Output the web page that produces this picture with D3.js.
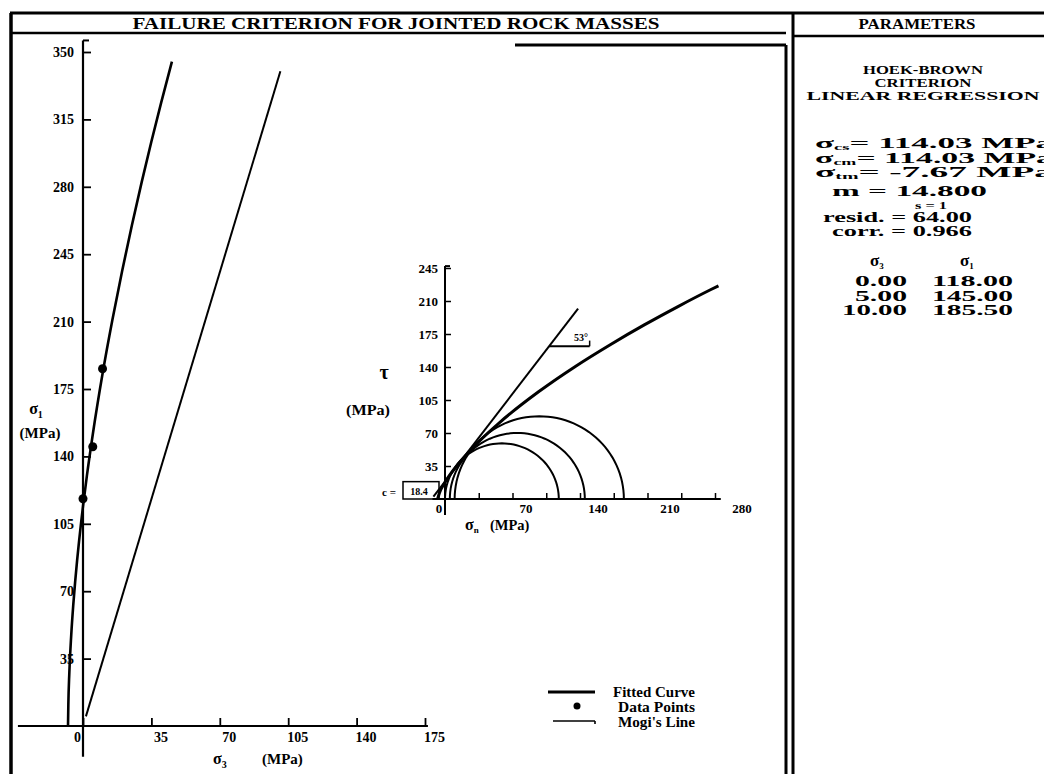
<!DOCTYPE html>
<html><head><meta charset="utf-8">
<script src="https://cdn.jsdelivr.net/npm/d3@7"></script>
<style>
body{margin:0;background:#fff;}
svg{display:block;font-family:"Liberation Serif","Times New Roman",serif;font-weight:bold;}
</style></head><body>
<svg id="c" width="1044" height="774"></svg>
<script>
// ---------- data ----------
const dataSigma3 = [0, 5, 10];
const dataSigma1 = [118, 145, 185.5];
// fitted Hoek-Brown curve, sigma1 vs sigma3 (MPa)
const fitSigma3 = [-7.67, -7.5, -7, -6, -5, -4, -3, -2, -1, 0, 2, 5, 10, 15, 20, 25, 30, 35, 40, 45.5];
const fitSigma1 = [0, 11.1, 27.5, 47.6, 62.6, 75.1, 86.1, 96.1, 105.4, 114.0, 130.0, 151.4, 182.9, 210.7, 236.2, 259.9, 282.3, 303.5, 323.7, 345];
// Mogi's line
const mogiSigma3 = [1.5, 101];
const mogiSigma1 = [5, 340];
// Mohr envelope (inset), tau vs sigma_n
const envSigmaN = [-7.67, -5.7, -0.33, 12.1, 23.9, 35.1, 56.6, 97.0, 135.2, 171.8, 207.1, 241.6, 275.3, 283.6];
const envTau    = [0, 6.6, 17.1, 35.2, 49.0, 60.9, 81.1, 113.7, 140.6, 163.9, 184.9, 204.1, 221.9, 226.1];
// linear envelope (53 deg, c = 18.4)
const linSigmaN = [-12, 138];
const linTau = [2.5, 202];
const angleMarkN = [108, 150];
const angleMarkTau = [162, 168];
const cohesion = 18.4;

const mainXTicks = [0, 35, 70, 105, 140, 175];
const mainYTicks = [35, 70, 105, 140, 175, 210, 245, 280, 315, 350];
const insetXTicks = [35, 70, 105, 140, 175, 210, 245, 280];
const insetXLabels = [0, 70, 140, 210, 280];
const insetYTicks = [35, 70, 105, 140, 175, 210, 245];

const legendLabels = ["Fitted Curve", "Data Points", "Mogi's Line"];
const paramHeader = ["HOEK-BROWN", "CRITERION", "LINEAR REGRESSION"];
const paramNames = ["cs", "cm", "tm"];
const paramValues = ["= 114.03 MPa", "= 114.03 MPa", "= -7.67 MPa"];
const paramOther = ["m = 14.800", "s = 1", "resid. = 64.00", "corr. = 0.966"];
const tableS3 = ["0.00", "5.00", "10.00"];
const tableS1 = ["118.00", "145.00", "185.50"];

// ---------- drawing ----------
const FONT = '"Liberation Serif","Times New Roman",serif';
const svg = d3.select("#c");
svg.append("rect").attr("width", 1044).attr("height", 774).attr("fill", "#fff");

// frame
const fr = svg.append("g").attr("stroke", "#000").attr("fill", "none");
[[10,13,1044,13,3],[11,13,11,774,3.5],[793,13,793,774,3],[786,45,786,774,3],
 [10,33,786,33,2.5],[515,45,786,45,3],[793,36,1044,36,2.5]].forEach(d => {
  fr.append("line").attr("x1",d[0]).attr("y1",d[1]).attr("x2",d[2]).attr("y2",d[3]).attr("stroke-width",d[4]);
});

svg.append("text").attr("x", 396).attr("y", 29).attr("text-anchor","middle")
  .attr("font-size", 16).attr("textLength", 527).attr("lengthAdjust","spacingAndGlyphs")
  .text("FAILURE CRITERION FOR JOINTED ROCK MASSES");
svg.append("text").attr("x", 917).attr("y", 29).attr("text-anchor","middle")
  .attr("font-size", 14).attr("textLength", 117).attr("lengthAdjust","spacingAndGlyphs")
  .text("PARAMETERS");

function styleAxis(sel, size) {
  sel.attr("font-family", FONT).attr("font-weight", "bold").attr("font-size", size);
  sel.select(".domain").remove();
  sel.selectAll(".tick line").attr("stroke-width", 1.8);
  sel.selectAll(".tick text").attr("font-size", size);
}

// ---------- main plot ----------
const x = d3.scaleLinear([0, 175], [83, 425]);
const y = d3.scaleLinear([0, 350], [726, 52]);
const g = svg.append("g");

g.append("line").attr("x1", x(-33.3)).attr("x2", x(176.5)).attr("y1", y(0)).attr("y2", y(0))
  .attr("stroke","#000").attr("stroke-width",2.2);
g.append("line").attr("x1", x(0)).attr("x2", x(0)).attr("y1", y(356)).attr("y2", y(-16))
  .attr("stroke","#000").attr("stroke-width",2.2);
g.append("line").attr("x1", x(0)).attr("x2", x(0)+6).attr("y1", y(356)).attr("y2", y(356))
  .attr("stroke","#000").attr("stroke-width",2);

const xAxis = g.append("g").attr("transform", `translate(0,${y(0)})`)
  .call(d3.axisBottom(x).tickValues(mainXTicks).tickSize(-8).tickPadding(6).tickFormat(d3.format("d")));
styleAxis(xAxis, 14);
xAxis.selectAll(".tick text").attr("dx", d => d === 0 ? -6 : 9);

const yAxis = g.append("g").attr("transform", `translate(${x(0)},0)`)
  .call(d3.axisLeft(y).tickValues(mainYTicks).tickSize(-8).tickPadding(9).tickFormat(d3.format("d")));
styleAxis(yAxis, 14);

// axis titles
const yt = g.append("text").attr("x", 36).attr("y", 414).attr("text-anchor","middle").attr("font-size", 16);
yt.append("tspan").text("σ");
yt.append("tspan").attr("dy", 4).attr("font-size", 10).text("1");
g.append("text").attr("x", 40).attr("y", 438).attr("text-anchor","middle").attr("font-size", 15).text("(MPa)");
const xt = g.append("text").attr("x", 213).attr("y", 764).attr("font-size", 16);
xt.append("tspan").text("σ");
xt.append("tspan").attr("dy", 4).attr("font-size", 10).text("3");
g.append("text").attr("x", 262).attr("y", 764).attr("font-size", 15).text("(MPa)");

// fitted curve
const fitData = fitSigma3.map((s, i) => [s, fitSigma1[i]]);
g.append("path").datum(fitData)
  .attr("d", d3.line().x(d => x(d[0])).y(d => y(d[1])).curve(d3.curveMonotoneX))
  .attr("fill","none").attr("stroke","#000").attr("stroke-width",2.6);
// Mogi's line
const mogiData = mogiSigma3.map((s, i) => [s, mogiSigma1[i]]);
g.append("path").datum(mogiData)
  .attr("d", d3.line().x(d => x(d[0])).y(d => y(d[1])))
  .attr("fill","none").attr("stroke","#000").attr("stroke-width",2);
// data points
g.selectAll("circle.pt").data(dataSigma3.map((s, i) => [s, dataSigma1[i]])).join("circle")
  .attr("class","pt").attr("cx", d => x(d[0])).attr("cy", d => y(d[1])).attr("r", 4.5).attr("fill","#000");

// ---------- inset (Mohr diagram) ----------
const xi = d3.scaleLinear([0, 280], [445, 715]);
const yi = d3.scaleLinear([0, 245], [499, 268]);
const ig = svg.append("g");
ig.append("line").attr("x1", xi(-13)).attr("x2", xi(286)).attr("y1", yi(0)).attr("y2", yi(0))
  .attr("stroke","#000").attr("stroke-width",2);
ig.append("line").attr("x1", xi(0)).attr("x2", xi(0)).attr("y1", yi(-17)).attr("y2", yi(247))
  .attr("stroke","#000").attr("stroke-width",2);
ig.append("line").attr("x1", xi(0)).attr("x2", xi(0)+5).attr("y1", yi(247)).attr("y2", yi(247))
  .attr("stroke","#000").attr("stroke-width",2);

const ixAxis = ig.append("g").attr("transform", `translate(0,${yi(0)})`)
  .call(d3.axisBottom(xi).tickValues(insetXTicks).tickSize(-6).tickFormat(""));
styleAxis(ixAxis, 13);
ixAxis.selectAll(".tick line").attr("stroke-width", 1.5);
ig.selectAll("text.ixl").data(insetXLabels).join("text").attr("class","ixl")
  .attr("x", d => xi(d) + (d === 0 ? -6 : 9 + d / 70 * 4.5)).attr("y", yi(0) + 14)
  .attr("text-anchor","middle").attr("font-size", 13).text(d => d);

const iyAxis = ig.append("g").attr("transform", `translate(${xi(0)},0)`)
  .call(d3.axisLeft(yi).tickValues(insetYTicks).tickSize(-6).tickPadding(7).tickFormat(d3.format("d")));
styleAxis(iyAxis, 13);
iyAxis.selectAll(".tick line").attr("stroke-width", 1.5);

// inset titles
ig.append("text").attr("x", 384).attr("y", 379).attr("text-anchor","middle").attr("font-size", 20).text("τ");
ig.append("text").attr("x", 346).attr("y", 415).attr("font-size", 14).attr("textLength", 44)
  .attr("lengthAdjust","spacingAndGlyphs").text("(MPa)");
const it = ig.append("text").attr("x", 465).attr("y", 530).attr("font-size", 16);
it.append("tspan").text("σ");
it.append("tspan").attr("dy", 3).attr("font-size", 9).text("n");
ig.append("text").attr("x", 490).attr("y", 530).attr("font-size", 14.5).text("(MPa)");

// cohesion box
ig.append("rect").attr("x", 403).attr("y", yi(cohesion)).attr("width", xi(0) - 403 - 6)
  .attr("height", yi(0) - yi(cohesion)).attr("fill","none").attr("stroke","#000").attr("stroke-width",1.5);
ig.append("text").attr("x", 419).attr("y", yi(0) - 4).attr("text-anchor","middle").attr("font-size", 10).text(cohesion);
ig.append("text").attr("x", 389).attr("y", yi(0) - 3).attr("text-anchor","middle").attr("font-size", 11).text("c =");

// Mohr semicircles
const angles = d3.range(0, 181, 3).map(a => a * Math.PI / 180);
dataSigma3.forEach((s3, i) => {
  const c = (dataSigma1[i] + s3) / 2, r = (dataSigma1[i] - s3) / 2;
  ig.append("path").datum(angles)
    .attr("d", d3.line().x(a => xi(c + r * Math.cos(a))).y(a => yi(r * Math.sin(a))))
    .attr("fill","none").attr("stroke","#000").attr("stroke-width",2);
});
// envelope
ig.append("path").datum(envSigmaN.map((s, i) => [s, envTau[i]]))
  .attr("d", d3.line().x(d => xi(d[0])).y(d => yi(d[1])).curve(d3.curveMonotoneX))
  .attr("fill","none").attr("stroke","#000").attr("stroke-width",3);
ig.append("path").datum(linSigmaN.map((s, i) => [s, linTau[i]]))
  .attr("d", d3.line().x(d => xi(d[0])).y(d => yi(d[1])))
  .attr("fill","none").attr("stroke","#000").attr("stroke-width",2);
ig.append("line").attr("x1", xi(angleMarkN[0])).attr("x2", xi(angleMarkN[1]))
  .attr("y1", yi(angleMarkTau[0])).attr("y2", yi(angleMarkTau[0])).attr("stroke","#000").attr("stroke-width",1.8);
ig.append("line").attr("x1", xi(angleMarkN[1])).attr("x2", xi(angleMarkN[1]))
  .attr("y1", yi(angleMarkTau[0])).attr("y2", yi(angleMarkTau[1])).attr("stroke","#000").attr("stroke-width",1.5);
ig.append("text").attr("x", xi(141)).attr("y", yi(168)).attr("text-anchor","middle").attr("font-size", 10).text("53°");

// ---------- legend ----------
const lg = svg.append("g");
lg.append("line").attr("x1", 548).attr("x2", 595).attr("y1", 692).attr("y2", 692).attr("stroke","#000").attr("stroke-width",3);
lg.append("circle").attr("cx", 577).attr("cy", 706).attr("r", 3.5).attr("fill","#000");
lg.append("line").attr("x1", 553).attr("x2", 595).attr("y1", 721).attr("y2", 721).attr("stroke","#000").attr("stroke-width",1.6);
lg.append("line").attr("x1", 595).attr("x2", 595).attr("y1", 721).attr("y2", 724).attr("stroke","#000").attr("stroke-width",1.6);
lg.selectAll("text").data(legendLabels).join("text")
  .attr("x", (d, i) => i === 0 ? 613 : 618).attr("y", (d, i) => 697 + i * 15)
  .attr("font-size", 14.5).attr("textLength", (d, i) => i === 0 ? 82 : 77)
  .attr("lengthAdjust","spacingAndGlyphs").text(d => d);

// ---------- parameters panel ----------
const pg = svg.append("g");
const hdrY = [74, 87, 100], hdrW = [120, 97, 233];
paramHeader.forEach((t, i) => {
  pg.append("text").attr("x", 923).attr("y", hdrY[i]).attr("text-anchor","middle").attr("font-size", 12.5)
    .attr("textLength", hdrW[i]).attr("lengthAdjust","spacingAndGlyphs").text(t);
});
paramNames.forEach((n, i) => {
  const t = pg.append("text").attr("x", 815).attr("y", 148 + i * 14.5).attr("font-size", 15)
    .attr("textLength", 238).attr("lengthAdjust","spacingAndGlyphs");
  t.append("tspan").text("σ");
  t.append("tspan").attr("dy", 2).attr("font-size", 8).text(n);
  t.append("tspan").attr("dy", -2).text(paramValues[i]);
});
const othY = [196, 208.5, 222, 236], othSize = [14.5, 11, 14, 14],
      othX = [832, 915, 823, 832], othW = [155, 32, 149, 140];
paramOther.forEach((t, i) => {
  pg.append("text").attr("x", othX[i]).attr("y", othY[i]).attr("font-size", othSize[i])
    .attr("textLength", othW[i]).attr("lengthAdjust","spacingAndGlyphs").text(t);
});
[["3", 870], ["1", 960]].forEach(([sub, xx]) => {
  const th = pg.append("text").attr("x", xx).attr("y", 266).attr("font-size", 17);
  th.append("tspan").text("σ");
  th.append("tspan").attr("dy", 3).attr("font-size", 9).text(sub);
});
tableS3.forEach((v, i) => {
  pg.append("text").attr("x", 907).attr("y", 286 + i * 14.5).attr("text-anchor","end").attr("font-size", 14)
    .attr("textLength", v.length * 13).attr("lengthAdjust","spacingAndGlyphs").text(v);
  pg.append("text").attr("x", 1013).attr("y", 286 + i * 14.5).attr("text-anchor","end").attr("font-size", 14)
    .attr("textLength", 81).attr("lengthAdjust","spacingAndGlyphs").text(tableS1[i]);
});
</script>
</body></html>
